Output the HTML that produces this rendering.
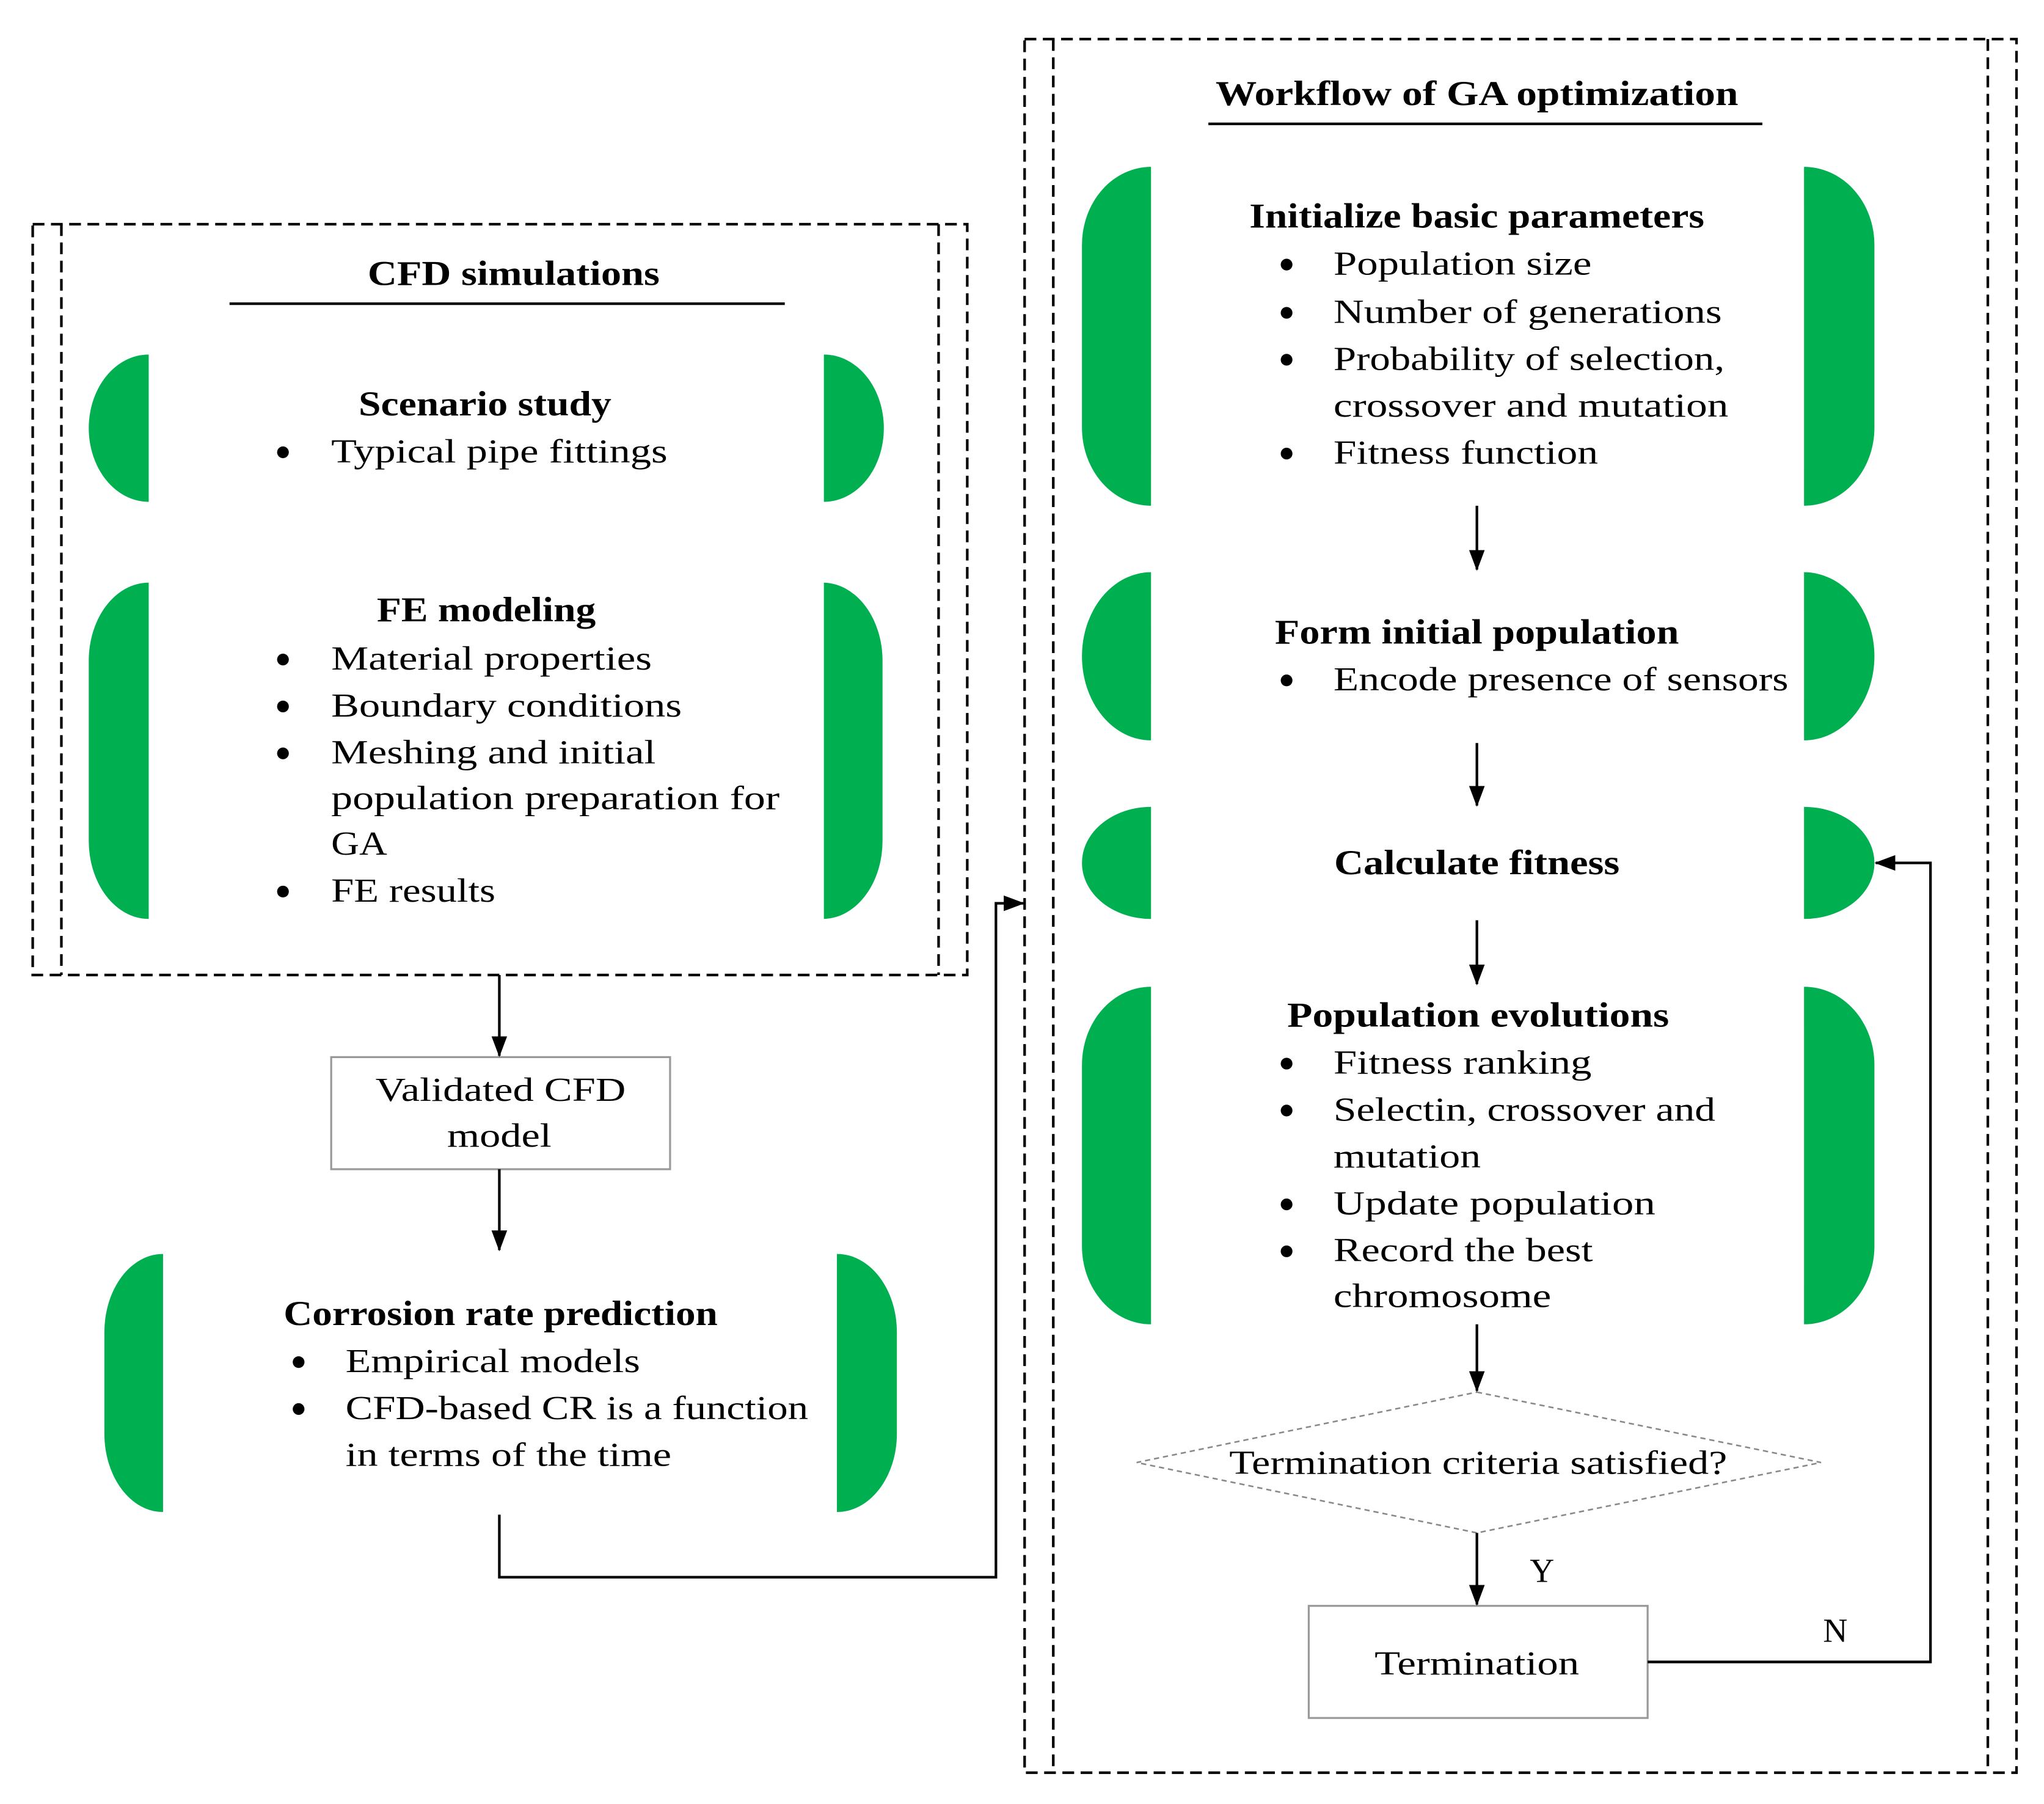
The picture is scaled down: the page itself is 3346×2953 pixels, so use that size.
<!DOCTYPE html>
<html><head><meta charset="utf-8"><style>
html,body{margin:0;padding:0;background:#fff;}
svg{display:block;}
text{font-family:"Liberation Serif",serif;fill:#000;dominant-baseline:central;}
.h{font-weight:bold;font-size:27px;text-anchor:middle;}
.t{font-size:26px;}
.c{text-anchor:middle;}
</style></head><body>
<svg width="3346" height="2953" viewBox="0 0 1568 1384" xmlns="http://www.w3.org/2000/svg">
<defs>
<marker id="b" markerWidth="16" markerHeight="16" refX="15" refY="8" orient="auto" markerUnits="userSpaceOnUse"><path d="M0,2 L16,8 L0,14 Z" fill="#000"/></marker></defs>
<g fill="none" stroke="#000" stroke-width="2" stroke-dasharray="9,5">
<rect x="25" y="172" width="717" height="576"/>
<line x1="47" y1="172" x2="47" y2="748"/><line x1="720" y1="172" x2="720" y2="748"/>
<rect x="786" y="30" width="761" height="1330"/>
<line x1="808" y1="30" x2="808" y2="1360"/><line x1="1525" y1="30" x2="1525" y2="1360"/>
</g>
<g fill="#00B050">
<path d="M114,272 A46,56.5 0 0 0 114,385 Z"/>
<path d="M632,272 A46,56.5 0 0 1 632,385 Z"/>
<path d="M114,447 A46,60 0 0 0 68,507 V645 A46,60 0 0 0 114,705 Z"/>
<path d="M632,447 A46,60 0 0 1 677,507 V645 A46,60 0 0 1 632,705 Z"/>
<path d="M125,962 A45,60 0 0 0 80,1022 V1100 A45,60 0 0 0 125,1160 Z"/>
<path d="M642,962 A46,60 0 0 1 688,1022 V1100 A46,60 0 0 1 642,1160 Z"/>
<path d="M883,128 A53,60 0 0 0 830,188 V328 A53,60 0 0 0 883,388 Z"/>
<path d="M1384,128 A54,60 0 0 1 1438,188 V328 A54,60 0 0 1 1384,388 Z"/>
<path d="M883,439 A53,64.5 0 0 0 883,568 Z"/>
<path d="M1384,439 A54,64.5 0 0 1 1384,568 Z"/>
<path d="M883,619 A53,43 0 0 0 883,705 Z"/>
<path d="M1384,619 A54,43 0 0 1 1384,705 Z"/>
<path d="M883,757 A53,60 0 0 0 830,817 V956 A53,60 0 0 0 883,1016 Z"/>
<path d="M1384,757 A54,60 0 0 1 1438,817 V956 A54,60 0 0 1 1384,1016 Z"/>
</g>
<g stroke="#000" stroke-width="2">
<line x1="176" y1="233" x2="602" y2="233"/>
<line x1="927" y1="95" x2="1352" y2="95"/>
</g>
<rect x="254" y="811" width="260" height="86" fill="#fff" stroke="#999" stroke-width="1.5"/>
<rect x="1004" y="1232" width="260" height="86" fill="#fff" stroke="#999" stroke-width="1.5"/>
<polygon points="1133,1068 1397,1122 1133,1176 872,1122" fill="#fff" stroke="#888" stroke-width="1.2" stroke-dasharray="4,3"/>
<g stroke="#000" stroke-width="2" fill="none" marker-end="url(#b)">
<line x1="383" y1="748" x2="383" y2="810"/>
<line x1="383" y1="897" x2="383" y2="959"/>
<path d="M383,1162 V1210 H764 V693 H785"/>
<line x1="1133" y1="388" x2="1133" y2="437"/>
<line x1="1133" y1="570" x2="1133" y2="618"/>
<line x1="1133" y1="706" x2="1133" y2="755"/>
<line x1="1133" y1="1016" x2="1133" y2="1067"/>
<line x1="1133" y1="1176" x2="1133" y2="1231"/>
<path d="M1264,1275 H1481 V662 H1439"/>
</g>
<g fill="#000">
<circle cx="217" cy="347" r="4.5"/>
<circle cx="217" cy="506" r="4.5"/><circle cx="217" cy="542" r="4.5"/><circle cx="217" cy="578" r="4.5"/><circle cx="217" cy="684" r="4.5"/>
<circle cx="229" cy="1045" r="4.5"/><circle cx="229" cy="1081" r="4.5"/>
<circle cx="987" cy="203" r="4.5"/><circle cx="987" cy="240" r="4.5"/><circle cx="987" cy="276" r="4.5"/><circle cx="987" cy="348" r="4.5"/>
<circle cx="987" cy="522" r="4.5"/>
<circle cx="987" cy="816" r="4.5"/><circle cx="987" cy="852" r="4.5"/><circle cx="987" cy="924" r="4.5"/><circle cx="987" cy="960" r="4.5"/>
</g>
<g lengthAdjust="spacingAndGlyphs">
<text class="h" x="394" y="210" textLength="224" lengthAdjust="spacingAndGlyphs">CFD simulations</text>
<text class="h" x="1133" y="72" textLength="401" lengthAdjust="spacingAndGlyphs">Workflow of GA optimization</text>
<text class="h" x="372" y="310" textLength="194" lengthAdjust="spacingAndGlyphs">Scenario study</text>
<text class="t" x="254" y="346" textLength="258" lengthAdjust="spacingAndGlyphs">Typical pipe fittings</text>
<text class="h" x="373" y="468" textLength="168" lengthAdjust="spacingAndGlyphs">FE modeling</text>
<text class="t" x="254" y="505" textLength="246" lengthAdjust="spacingAndGlyphs">Material properties</text>
<text class="t" x="254" y="541" textLength="269" lengthAdjust="spacingAndGlyphs">Boundary conditions</text>
<text class="t" x="254" y="577" textLength="249" lengthAdjust="spacingAndGlyphs">Meshing and initial</text>
<text class="t" x="254" y="612" textLength="344" lengthAdjust="spacingAndGlyphs">population preparation for</text>
<text class="t" x="254" y="647" textLength="43" lengthAdjust="spacingAndGlyphs">GA</text>
<text class="t" x="254" y="683" textLength="126" lengthAdjust="spacingAndGlyphs">FE results</text>
<text class="t c" x="384" y="836" textLength="192" lengthAdjust="spacingAndGlyphs">Validated CFD</text>
<text class="t c" x="383" y="871" textLength="80" lengthAdjust="spacingAndGlyphs">model</text>
<text class="h" x="384" y="1008" textLength="333" lengthAdjust="spacingAndGlyphs">Corrosion rate prediction</text>
<text class="t" x="265" y="1044" textLength="226" lengthAdjust="spacingAndGlyphs">Empirical models</text>
<text class="t" x="265" y="1080" textLength="355" lengthAdjust="spacingAndGlyphs">CFD-based CR is a function</text>
<text class="t" x="265" y="1116" textLength="250" lengthAdjust="spacingAndGlyphs">in terms of the time</text>
<text class="h" x="1133" y="166" textLength="349" lengthAdjust="spacingAndGlyphs">Initialize basic parameters</text>
<text class="t" x="1023" y="202" textLength="198" lengthAdjust="spacingAndGlyphs">Population size</text>
<text class="t" x="1023" y="239" textLength="298" lengthAdjust="spacingAndGlyphs">Number of generations</text>
<text class="t" x="1023" y="275" textLength="300" lengthAdjust="spacingAndGlyphs">Probability of selection,</text>
<text class="t" x="1023" y="311" textLength="303" lengthAdjust="spacingAndGlyphs">crossover and mutation</text>
<text class="t" x="1023" y="347" textLength="203" lengthAdjust="spacingAndGlyphs">Fitness function</text>
<text class="h" x="1133" y="485" textLength="310" lengthAdjust="spacingAndGlyphs">Form initial population</text>
<text class="t" x="1023" y="521" textLength="349" lengthAdjust="spacingAndGlyphs">Encode presence of sensors</text>
<text class="h" x="1133" y="662" textLength="219" lengthAdjust="spacingAndGlyphs">Calculate fitness</text>
<text class="h" x="1134" y="779" textLength="293" lengthAdjust="spacingAndGlyphs">Population evolutions</text>
<text class="t" x="1023" y="815" textLength="198" lengthAdjust="spacingAndGlyphs">Fitness ranking</text>
<text class="t" x="1023" y="851" textLength="293" lengthAdjust="spacingAndGlyphs">Selectin, crossover and</text>
<text class="t" x="1023" y="887" textLength="113" lengthAdjust="spacingAndGlyphs">mutation</text>
<text class="t" x="1023" y="923" textLength="247" lengthAdjust="spacingAndGlyphs">Update population</text>
<text class="t" x="1023" y="959" textLength="199" lengthAdjust="spacingAndGlyphs">Record the best</text>
<text class="t" x="1023" y="994" textLength="167" lengthAdjust="spacingAndGlyphs">chromosome</text>
<text class="t c" x="1134" y="1122" textLength="382" lengthAdjust="spacingAndGlyphs">Termination criteria satisfied?</text>
<text class="t c" x="1183" y="1205">Y</text>
<text class="t c" x="1133" y="1276" textLength="157" lengthAdjust="spacingAndGlyphs">Termination</text>
<text class="t c" x="1408" y="1251">N</text>
</g>
</svg>
</body></html>
